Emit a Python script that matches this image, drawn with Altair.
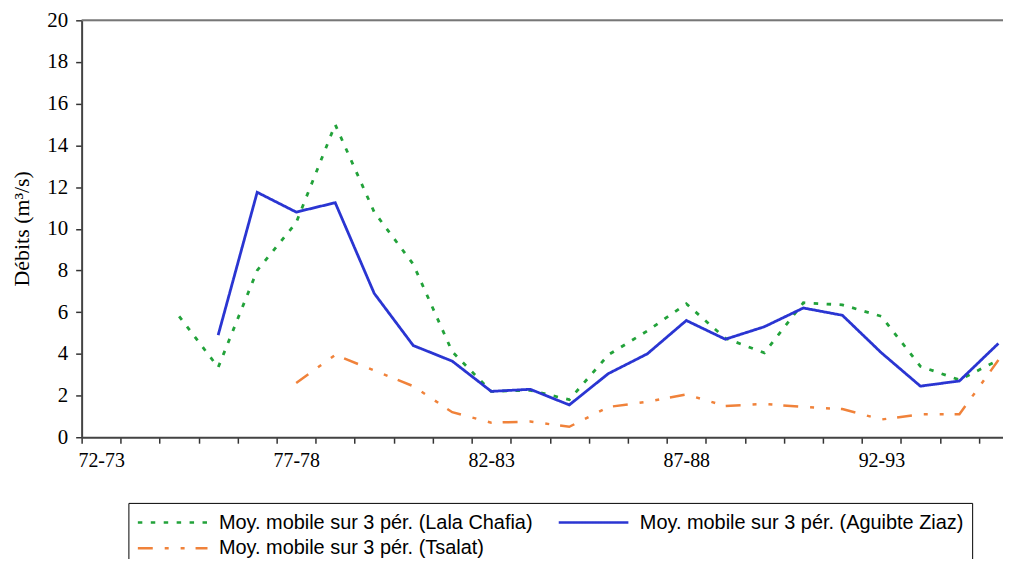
import altair as alt
import pandas as pd

# ---- data ----
categories = ["72-73", "73-74", "74-75", "75-76", "76-77", "77-78", "78-79", "79-80",
              "80-81", "81-82", "82-83", "83-84", "84-85", "85-86", "86-87", "87-88",
              "88-89", "89-90", "90-91", "91-92", "92-93", "93-94", "94-95", "95-96"]
shown_labels = ["72-73", "77-78", "82-83", "87-88", "92-93"]
y_ticks = [0, 2, 4, 6, 8, 10, 12, 14, 16, 18, 20]

lala_chafia = [None, None, 5.8, 3.35, 8.0, 10.3, 15.0, 10.8, 8.3, 4.1, 2.2, 2.25,
               1.8, 3.95, 5.1, 6.4, 4.75, 4.05, 6.45, 6.35, 5.8, 3.4, 2.75, 3.7]
aguibte_ziaz = [None, None, None, 4.9, 11.75, 10.8, 11.25, 6.9, 4.4, 3.65, 2.2, 2.3,
                1.55, 3.05, 4.0, 5.6, 4.7, 5.3, 6.2, 5.85, 4.05, 2.45, 2.7, 4.5]
tsalat = [None, None, None, None, None, 2.6, 3.95, 3.2, 2.45, 1.2, 0.7, 0.75,
          0.5, 1.45, 1.7, 2.05, 1.5, 1.6, 1.45, 1.35, 0.85, 1.1, 1.1, 3.7]

name_lala = "Moy. mobile sur 3 pér. (Lala Chafia)"
name_agui = "Moy. mobile sur 3 pér. (Aguibte Ziaz)"
name_tsal = "Moy. mobile sur 3 pér. (Tsalat)"
# legend fills column by column: col 1 = Lala Chafia, Tsalat ; col 2 = Aguibte Ziaz
legend_order = [name_lala, name_tsal, name_agui]
colors = ["#22a23a", "#f0823a", "#2a35d2"]
dashes = [[4.5, 8.5], [15, 12, 4, 12, 4, 11], [1, 0]]

rows = []
for name, series in [(name_lala, lala_chafia), (name_agui, aguibte_ziaz), (name_tsal, tsalat)]:
    for c, v in zip(categories, series):
        if v is not None:
            rows.append({"periode": c, "debit": v, "serie": name})
df = pd.DataFrame(rows)

SERIF = "Liberation Serif"
SANS = "Liberation Sans"

label_list = "[" + ",".join("'" + s + "'" for s in shown_labels) + "]"

x_enc = alt.X(
    "periode:O",
    bandPosition=0.5,
    scale=alt.Scale(type="band", domain=categories, range=[0, 941],
                    paddingInner=0, paddingOuter=0),
    axis=alt.Axis(title=None, tickBand="extent", labelAngle=0, labelOverlap=False,
                  labelExpr="indexof(" + label_list + ", datum.label) >= 0 ? datum.label : ''",
                  labelFont=SERIF, labelFontSize=20, labelColor="black",
                  labelPadding=7, tickSize=6, tickColor="#333", tickWidth=1.5,
                  domainColor="#444", domainWidth=2),
)
y_enc = alt.Y(
    "debit:Q",
    scale=alt.Scale(domain=[0, 20], nice=False),
    axis=alt.Axis(title="Débits (m³/s)", values=y_ticks, grid=False,
                  labelFont=SERIF, labelFontSize=21, labelColor="black",
                  labelPadding=8, tickSize=6, tickColor="#333", tickWidth=1.5,
                  domainColor="#444", domainWidth=2,
                  titleFont=SERIF, titleFontSize=22, titleFontWeight="normal",
                  titleColor="black", titleX=-60, titleY=209, titleAngle=270,
                  titleAlign="center", titleBaseline="middle"),
)
legend = alt.Legend(
    title=None, orient="none", legendX=47, legendY=485, columns=2,
    symbolType="M-1,0H6", symbolSize=400, symbolStrokeWidth=2.5,
    symbolFillColor="transparent",
    labelFont=SANS, labelFontSize=20, labelColor="black", labelLimit=0,
    labelOffset=60, padding=8, rowPadding=4, columnPadding=20,
    strokeColor="black", fillColor="white", cornerRadius=0,
)
color_enc = alt.Color("serie:N", scale=alt.Scale(domain=legend_order, range=colors), legend=legend)
dash_enc = alt.StrokeDash("serie:N", scale=alt.Scale(domain=legend_order, range=dashes), legend=legend)


def layer(name, width):
    return (
        alt.Chart(df)
        .transform_filter(alt.datum.serie == name)
        .mark_line(strokeWidth=width, strokeCap="butt")
        .encode(x=x_enc, y=y_enc, color=color_enc, strokeDash=dash_enc)
    )


frame_top = (
    alt.Chart(alt.Data(values=[{"a": 1}]))
    .mark_rule(color="#777", strokeWidth=2)
    .encode(x=alt.value(0), x2=alt.value(941), y=alt.value(0))
)

chart = (
    alt.layer(frame_top, layer(name_lala, 2.8), layer(name_tsal, 2.5), layer(name_agui, 2.8))
    .properties(width=926, height=419,
                autosize=alt.AutoSizeParams(type="none"),
                padding={"left": 74, "top": 11, "right": 0, "bottom": 121})
    .configure_view(stroke=None)
    .configure(background="white")
)

chart.save("out.html", embed_options={"renderer": "svg", "actions": False})
